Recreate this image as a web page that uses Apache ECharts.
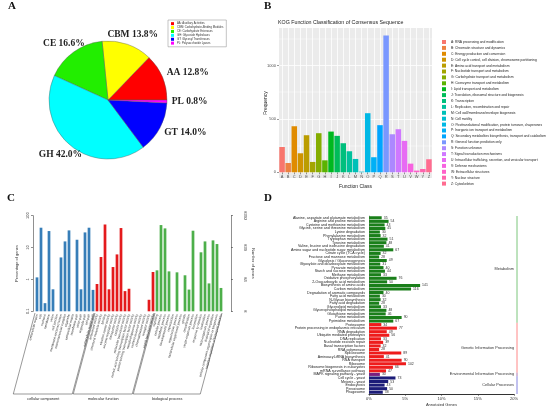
<!DOCTYPE html>
<html>
<head>
<meta charset="utf-8">
<script src="https://cdn.jsdelivr.net/npm/echarts@6/dist/echarts.min.js"></script>
<style>
  html, body { margin: 0; padding: 0; background: #fff; }
  #main { width: 550px; height: 412px; }
</style>
</head>
<body>
<div id="main"></div>
<script>
// ---- A: CAZy classes (percent) ----
var cazyNames = ['AA', 'CBM', 'CE', 'GH', 'GT', 'PL'];
var cazyLegend = ['AA: Auxiliary Activities', 'CBM: Carbohydrate-Binding Modules', 'CE: Carbohydrate Esterases',
  'GH: Glycoside Hydrolases', 'GT: Glycosyl Transferases', 'PL: Polysaccharide Lyases'];
var cazyPercent = [12.8, 13.8, 16.6, 42.0, 14.0, 0.8];
var cazyColors = ['#ff0000', '#ffff00', '#22ee00', '#00ffff', '#0000ff', '#ff00ff'];

// ---- B: KOG classes ----
var kogCodes = ['A','B','C','D','E','F','G','H','I','J','K','L','M','N','O','P','Q','R','S','T','U','V','W','Y','Z'];
var kogNames = ['RNA processing and modification', 'Chromatin structure and dynamics', 'Energy production and conversion',
  'Cell cycle control, cell division, chromosome partitioning', 'Amino acid transport and metabolism',
  'Nucleotide transport and metabolism', 'Carbohydrate transport and metabolism', 'Coenzyme transport and metabolism',
  'Lipid transport and metabolism', 'Translation, ribosomal structure and biogenesis', 'Transcription',
  'Replication, recombination and repair', 'Cell wall/membrane/envelope biogenesis', 'Cell motility',
  'Posttranslational modification, protein turnover, chaperones', 'Inorganic ion transport and metabolism',
  'Secondary metabolites biosynthesis, transport and catabolism', 'General function prediction only',
  'Function unknown', 'Signal transduction mechanisms', 'Intracellular trafficking, secretion, and vesicular transport',
  'Defense mechanisms', 'Extracellular structures', 'Nuclear structure', 'Cytoskeleton'];
var kogCounts = [237, 87, 431, 178, 347, 97, 366, 112, 381, 341, 272, 197, 125, 6, 553, 141, 441, 1281, 356, 403, 294, 81, 16, 31, 122];
var kogTickLabels = ['0', '500', '1000'];

// ---- C: GO level-2 terms (percent of genes) ----
var goGroups = ['cellular component', 'molecular function', 'biological process'];
var goGroupSizes = [15, 15, 17];
var goGroupColors = ['#377eb8', '#e41a1c', '#4daf4a'];
var goTerms = ['extracellular region', 'cell', 'nucleoid', 'membrane', 'virion', 'cell junction',
  'membrane-enclosed lumen', 'macromolecular complex', 'organelle', 'extracellular matrix', 'membrane part',
  'virion part', 'organelle part', 'cell part', 'extracellular region part',
  'antioxidant activity', 'structural molecule activity', 'binding', 'electron carrier activity',
  'enzyme regulator activity', 'transporter activity', 'catalytic activity', 'molecular transducer activity',
  'nucleic acid binding transcription factor activity', 'protein binding transcription factor activity',
  'metallochaperone activity', 'nutrient reservoir activity', 'chemoattractant activity', 'receptor activity',
  'signal transducer activity',
  'signaling', 'cellular process', 'metabolic process', 'developmental process', 'reproduction',
  'reproductive process', 'multicellular organismal process', 'growth', 'detoxification',
  'single-organism process', 'locomotion', 'response to stimulus', 'localization', 'multi-organism process',
  'biological regulation', 'cellular component organization or biogenesis', 'negative regulation of biological process'];
var goPercent = [1.16, 42, 0.18, 33, 0.49, null, 4.9, 15.6, 34.6, null, 17.6, 0.49, 29.9, 42, 0.47,
  0.72, 5.05, 53, 0.49, 2.45, 6.1, 41, 0.43, 0.51, null, null, null, null, 0.23, 1.71,
  1.93, 50.8, 40, 1.79, null, 1.67, null, 1.35, 0.48, 33.8, null, 7.1, 15.6, 0.75, 16.8, 12.9, 0.54];
var goRightTicks = ['8', '84', '839', '8392'];

// ---- D: KEGG pathways (annotated genes) ----
var keggPathways = ['Alanine, aspartate and glutamate metabolism', 'Arginine and proline metabolism',
  'Cysteine and methionine metabolism', 'Glycine, serine and threonine metabolism', 'Lysine degradation',
  'Phenylalanine metabolism', 'Tryptophan metabolism', 'Tyrosine metabolism',
  'Valine, leucine and isoleucine degradation', 'Amino sugar and nucleotide sugar metabolism',
  'Citrate cycle (TCA cycle)', 'Fructose and mannose metabolism', 'Glycolysis / Gluconeogenesis',
  'Glyoxylate and dicarboxylate metabolism', 'Pyruvate metabolism', 'Starch and sucrose metabolism',
  'Methane metabolism', 'Oxidative phosphorylation', '2-Oxocarboxylic acid metabolism',
  'Biosynthesis of amino acids', 'Carbon metabolism', 'Degradation of aromatic compounds',
  'Fatty acid metabolism', 'N-Glycan biosynthesis', 'Fatty acid degradation', 'Glycerolipid metabolism',
  'Glycerophospholipid metabolism', 'Glutathione metabolism', 'Purine metabolism', 'Pyrimidine metabolism',
  'Proteasome', 'Protein processing in endoplasmic reticulum', 'RNA degradation', 'Ubiquitin mediated proteolysis',
  'DNA replication', 'Nucleotide excision repair', 'Basal transcription factors', 'RNA polymerase',
  'Spliceosome', 'Aminoacyl-tRNA biosynthesis', 'RNA transport', 'Ribosome',
  'Ribosome biogenesis in eukaryotes', 'mRNA surveillance pathway',
  'MAPK signaling pathway - yeast',
  'Cell cycle - yeast', 'Meiosis - yeast', 'Endocytosis', 'Peroxisome', 'Phagosome'];
var keggGenes = [35, 54, 43, 45, 30, 32, 51, 48, 41, 67, 32, 28, 49, 31, 40, 44, 33, 76, 50, 141, 116, 40, 30, 32, 28, 33, 48, 46, 90, 67,
  34, 77, 49, 56, 33, 39, 32, 28, 89, 41, 90, 102, 66, 47,
  30,
  73, 53, 43, 50, 38];
var keggClasses = ['Metabolism', 'Genetic Information Processing', 'Environmental Information Processing', 'Cellular Processes'];
var keggClassSizes = [30, 14, 1, 5];
var keggBarColors = ['#1a7f1a', '#ee1c1c', '#7a1f7f', '#1c1c78'];
var keggLineColors = ['#5cb85c', '#ff6b6b', '#a05aa0', '#6464d8'];
var keggTickLabels = ['0%', '5%', '10%', '15%', '20%'];
var keggGenesPer5Pct = 100;

// ggplot default hue palette
function hcl(h, c, l) {
  var hr = h * Math.PI / 180, U = c * Math.cos(hr), V = c * Math.sin(hr);
  var Xn = 95.047, Yn = 100, Zn = 108.883;
  var d = Xn + 15 * Yn + 3 * Zn, un = 4 * Xn / d, vn = 9 * Yn / d;
  var Y = Yn * Math.pow((l + 16) / 116, 3);
  var up = U / (13 * l) + un, vp = V / (13 * l) + vn;
  var X = Y * 9 * up / (4 * vp), Z = Y * (12 - 3 * up - 20 * vp) / (4 * vp);
  X /= 100; Y /= 100; Z /= 100;
  var rgb = [3.2404542 * X - 1.5371385 * Y - 0.4985314 * Z,
    -0.9692660 * X + 1.8760108 * Y + 0.0415560 * Z,
    0.0556434 * X - 0.2040259 * Y + 1.0572252 * Z];
  return 'rgb(' + rgb.map(function (v) {
    v = v <= 0.0031308 ? 12.92 * v : 1.055 * Math.pow(v, 1 / 2.4) - 0.055;
    return Math.round(Math.max(0, Math.min(1, v)) * 255);
  }).join(',') + ')';
}

var SANS = 'Liberation Sans';
var SERIF = 'Liberation Serif';
var PIE_C = [108, 100], PIE_R = 59;

// mid angle of each slice (counter-clockwise from 3 o'clock), used to place labels like R's pie()
var cum = 0;
var cazyMid = cazyPercent.map(function (p) { var m = (cum + p / 2) * 3.6; cum += p; return m; });

// B series: one per KOG class so the legend can list them
var kogSeries = kogCodes.map(function (code, i) {
  var data = kogCodes.map(function (c, j) { return j === i ? kogCounts[i] : '-'; });
  return {
    name: code + ': ' + kogNames[i], type: 'bar', xAxisIndex: 0, yAxisIndex: 0,
    stack: 'kog', barCategoryGap: '10%', data: data,
    itemStyle: { color: hcl(15 + 14.4 * i, 100, 65) }
  };
});

var goGroupOf = [];
goGroupSizes.forEach(function (n, g) { for (var k = 0; k < n; k++) goGroupOf.push(g); });
var goData = goPercent.map(function (v, i) {
  return { value: v, itemStyle: { color: goGroupColors[goGroupOf[i]] } };
});

var keggClassOf = [];
keggClassSizes.forEach(function (n, g) { for (var k = 0; k < n; k++) keggClassOf.push(g); });
var keggData = keggGenes.map(function (v, i) {
  return { value: v, itemStyle: { color: keggBarColors[keggClassOf[i]] } };
});

var chart = echarts.init(document.getElementById('main'), null, { renderer: 'canvas' });

var option = {
  animation: false,
  textStyle: { fontFamily: SANS },
  grid: [
    { left: 279, top: 12, width: 153, height: 160.3 },                       // B data
    { left: 35, top: 215.7, width: 188, height: 95.6 },                      // C
    { left: 369, top: 216, width: 145, height: 178 },                        // D
    { left: 279, top: 28, width: 153, height: 150, show: true, backgroundColor: '#EBEBEB', borderWidth: 0, z: -1 } // B panel
  ],
  legend: [
    {
      data: cazyNames.map(function (n, i) { return { name: n, itemStyle: { color: cazyColors[i] } }; }),
      orient: 'vertical', left: 168, top: 20, icon: 'rect',
      itemWidth: 3, itemHeight: 3, itemGap: 0.6, selectedMode: false,
      padding: [2, 3, 2, 3], borderColor: '#888', borderWidth: 0.5, borderRadius: 0,
      itemStyle: { borderWidth: 0 },
      textStyle: { fontSize: 2.8, lineHeight: 3.3, color: '#333', padding: [0, 0, 0, -2] },
      formatter: function (name) { return cazyLegend[cazyNames.indexOf(name)]; }
    },
    {
      data: kogSeries.map(function (s) { return s.name; }), orient: 'vertical', left: 437, top: 35,
      icon: 'rect', itemWidth: 4, itemHeight: 4, itemGap: 1.9, selectedMode: false,
      textStyle: { fontSize: 3.3, lineHeight: 4, color: '#222' }
    }
  ],
  xAxis: [
    {
      gridIndex: 0, type: 'category', data: kogCodes,
      axisLine: { show: false },
      axisTick: { show: true, length: 2, alignWithLabel: true, lineStyle: { color: '#333', width: 0.5 } },
      axisLabel: { fontSize: 4, color: '#4d4d4d', margin: 3, interval: 0 },
      splitLine: { show: true, alignWithLabel: true, lineStyle: { color: '#fff', width: 0.8 } },
      name: 'Function Class', nameLocation: 'middle', nameGap: 12,
      nameTextStyle: { fontSize: 5, color: '#222' }
    },
    {
      gridIndex: 1, type: 'category', data: goTerms,
      axisLine: { show: false }, axisTick: { show: false },
      axisLabel: { fontSize: 3.2, color: '#333', rotate: 75, interval: 0, margin: 3 }
    },
    {
      gridIndex: 2, type: 'value', min: 0, max: 4 * keggGenesPer5Pct, interval: keggGenesPer5Pct,
      axisLine: { show: true, lineStyle: { color: '#333', width: 1 } },
      axisTick: { show: true, length: 2, lineStyle: { color: '#333', width: 0.5 } },
      axisLabel: {
        fontSize: 4, color: '#333', margin: 3,
        formatter: function (v) { return keggTickLabels[Math.round(v / keggGenesPer5Pct)]; }
      },
      splitLine: { show: false },
      name: 'Annotated Genes', nameLocation: 'middle', nameGap: 9,
      nameTextStyle: { fontSize: 4, color: '#333' }
    },
    { gridIndex: 3, type: 'value', show: false }
  ],
  yAxis: [
    {
      gridIndex: 0, type: 'value', min: 0, max: 1500, interval: 500,
      axisLine: { show: false },
      axisTick: { show: true, length: 2, customValues: [0, 500, 1000], lineStyle: { color: '#333', width: 0.5 } },
      axisLabel: {
        fontSize: 4, color: '#4d4d4d', margin: 3, showMaxLabel: false,
        formatter: function (v) { return kogTickLabels[v / 500] || ''; }
      },
      splitLine: { show: true, lineStyle: { color: '#fff', width: 0.8 } },
      minorTick: { show: false, splitNumber: 2 },
      minorSplitLine: { show: true, lineStyle: { color: '#fff', width: 0.4 } }
    },
    {
      gridIndex: 1, type: 'log', logBase: 10, min: 0.1, max: 100, startValue: 0.1,
      position: 'left', offset: 2,
      axisLine: { show: true, lineStyle: { color: '#444', width: 0.6 } },
      axisTick: { show: true, length: 2, lineStyle: { color: '#444', width: 0.6 } },
      axisLabel: { fontSize: 4, color: '#333', rotate: 90, margin: 3 },
      splitLine: { show: false },
      name: 'Percentage of genes', nameLocation: 'middle', nameGap: 14, nameRotate: 90,
      nameTextStyle: { fontSize: 4, color: '#333' }
    },
    {
      gridIndex: 1, type: 'log', logBase: 10, min: 0.1, max: 100,
      position: 'right', offset: 8,
      axisLine: { show: true, lineStyle: { color: '#444', width: 0.6 } },
      axisTick: { show: true, length: 2, lineStyle: { color: '#444', width: 0.6 } },
      axisLabel: {
        fontSize: 4, color: '#333', rotate: -90, margin: 12,
        formatter: function (v) { return goRightTicks[Math.round(Math.log10(v)) + 1]; }
      },
      splitLine: { show: false },
      name: 'Number of genes', nameLocation: 'middle', nameGap: 20, nameRotate: -90,
      nameTextStyle: { fontSize: 4, color: '#333' }
    },
    {
      gridIndex: 2, type: 'category', data: keggPathways, inverse: true,
      axisLine: { show: true, lineStyle: { color: '#555', width: 0.5 } },
      axisTick: { show: false },
      axisLabel: { fontSize: 3.6, color: '#222', interval: 0, margin: 4 }
    },
    { gridIndex: 3, type: 'value', show: false }
  ],
  series: [
    {
      type: 'pie', center: PIE_C, radius: PIE_R, startAngle: 0, clockwise: false,
      data: cazyNames.map(function (n, i) {
        return { name: n, value: cazyPercent[i], itemStyle: { color: cazyColors[i] } };
      }),
      itemStyle: { borderColor: '#555', borderWidth: 0.4 },
      label: {
        formatter: function (p) { return p.name + ' ' + p.value.toFixed(1) + '%'; },
        fontFamily: SERIF, fontWeight: 'bold', fontSize: 9.5, color: '#222',
        overflow: 'none', width: 80
      },
      labelLine: { show: false },
      labelLayout: function (params) {
        var a = cazyMid[params.dataIndex] * Math.PI / 180;
        var c = Math.cos(a), s = Math.sin(a);
        var x = PIE_C[0] + PIE_R * 1.08 * c, y = PIE_C[1] - PIE_R * 1.18 * s;
        var align = c > 0.7 ? 'left' : (c < -0.7 ? 'right' : 'center');
        if (align === 'center') x += 12 * c;
        return { x: x, y: y, align: align, verticalAlign: 'middle' };
      }
    },
    {
      type: 'bar', xAxisIndex: 1, yAxisIndex: 1, data: goData, barCategoryGap: '32%'
    },
    {
      type: 'bar', xAxisIndex: 2, yAxisIndex: 3, data: keggData, barCategoryGap: '14%',
      label: { show: true, position: 'right', distance: 2, fontSize: 3.5, color: '#333' }
    }
  ].concat(kogSeries)
};

chart.setOption(option);

// annotations that depend on axis positions
var graphics = [];
function letter(t, x, y) {
  graphics.push({ type: 'text', x: x, y: y, style: { text: t, font: 'bold 11px ' + SERIF, fill: '#111' } });
}
letter('A', 8, 1);
letter('B', 264, 1);
letter('C', 7, 193);
letter('D', 264, 193);

graphics.push({ type: 'text', x: 278, y: 20, style: {
  text: 'KOG Function Classification of Consensus Sequence', font: '5.3px ' + SANS, fill: '#222' } });
graphics.push({ type: 'text', x: 266, y: 103, rotation: Math.PI / 2, style: {
  text: 'Frequency', font: '5px ' + SANS, fill: '#222', align: 'center', verticalAlign: 'middle' } });

// C: group brackets under the rotated labels
var cBand = chart.convertToPixel({ xAxisIndex: 1 }, 1) - chart.convertToPixel({ xAxisIndex: 1 }, 0);
var topY = 313, botY = 394;
var slant = (botY - topY) / Math.tan(75 * Math.PI / 180);
var start = 0;
goGroupSizes.forEach(function (n, g) {
  var xl = chart.convertToPixel({ xAxisIndex: 1 }, start) - cBand / 2;
  var xr = chart.convertToPixel({ xAxisIndex: 1 }, start + n - 1) + cBand / 2;
  graphics.push({
    type: 'polyline', silent: true,
    shape: { points: [[xl, topY], [xl - slant, botY], [xr - slant - 1, botY], [xr - 1, topY]] },
    style: { stroke: '#333', lineWidth: 0.5, fill: null }
  });
  graphics.push({ type: 'text', x: (xl + xr) / 2 - slant, y: botY + 5, style: {
    text: goGroups[g], font: '3.8px ' + SANS, fill: '#222', align: 'center', verticalAlign: 'middle' } });
  start += n;
});

// D: class lines and names on the right
var dBand = chart.convertToPixel({ yAxisIndex: 3 }, 1) - chart.convertToPixel({ yAxisIndex: 3 }, 0);
var dRight = chart.convertToPixel({ xAxisIndex: 2 }, 4 * keggGenesPer5Pct);
start = 0;
keggClassSizes.forEach(function (n, g) {
  var y0 = chart.convertToPixel({ yAxisIndex: 3 }, start) - dBand / 2;
  var y1 = chart.convertToPixel({ yAxisIndex: 3 }, start + n - 1) + dBand / 2;
  graphics.push({ type: 'line', silent: true, shape: { x1: dRight + 3, y1: y0, x2: dRight + 3, y2: y1 },
    style: { stroke: keggLineColors[g], lineWidth: 0.8 } });
  graphics.push({ type: 'text', x: dRight, y: (y0 + y1) / 2, style: {
    text: keggClasses[g], font: '3.8px ' + SANS, fill: '#333', align: 'right', verticalAlign: 'middle' } });
  start += n;
});

chart.setOption({ graphic: graphics });
</script>
</body>
</html>
